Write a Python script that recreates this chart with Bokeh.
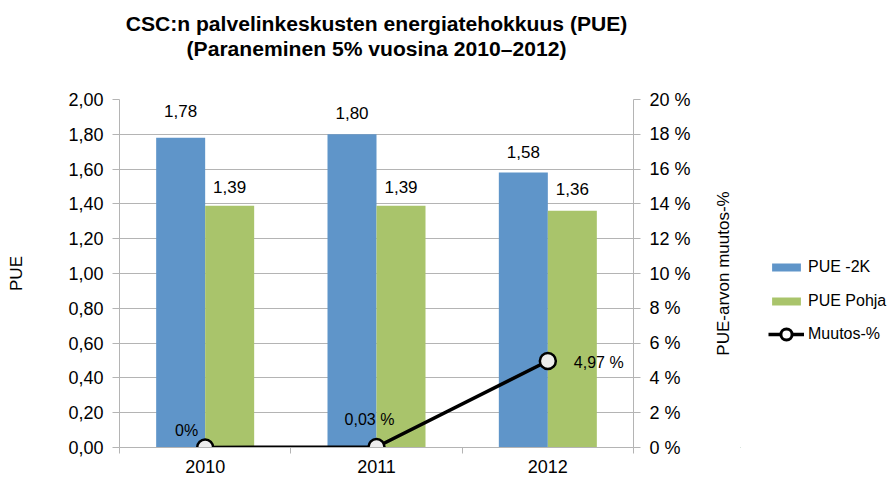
import math
from bokeh.plotting import figure
from bokeh.layouts import row
from bokeh.models import (Range1d, LinearAxis, FixedTicker, CustomJSTickFormatter,
                          ColumnDataSource, Legend, LegendItem, Title)
from bokeh.core.properties import value
from bokeh.embed import file_html
from bokeh.resources import INLINE

# ---- data ----
years = ["2010", "2011", "2012"]
pue_2k = [1.78, 1.80, 1.58]
pue_pohja = [1.39, 1.39, 1.36]
muutos = [0.0, 0.03, 4.97]          # percent
muutos_labels = ["0%", "0,03 %", "4,97 %"]
left_ticks = [0.0, 0.2, 0.4, 0.6, 0.8, 1.0, 1.2, 1.4, 1.6, 1.8, 2.0]
right_ticks = [0, 2, 4, 6, 8, 10, 12, 14, 16, 18, 20]
series_names = ["PUE -2K", "PUE Pohja", "Muutos-%"]
title_lines = ["CSC:n palvelinkeskusten energiatehokkuus (PUE)",
               "(Paraneminen 5% vuosina 2010–2012)"]
right_axis_title = "PUE-arvon muutos-%"

# ---- styles ----
FONT = "Liberation Sans"
BLUE = "#5F95C9"
GREEN = "#A9C46B"
GRID = "#B4B4B4"

xc = [i + 0.5 for i in range(len(years))]
half = 0.143

p = figure(width=700, height=479, output_backend="svg", toolbar_location=None,
           x_range=Range1d(0, 3), y_range=Range1d(0, 2),
           min_border_left=119, min_border_right=67, min_border_top=0, min_border_bottom=32)
p.extra_y_ranges = {"pct": Range1d(0, 20)}
p.outline_line_color = None
p.background_fill_color = "white"
p.border_fill_color = "white"

# titles: spacer (innermost), line 2, line 1, top spacer (outermost)
p.add_layout(Title(text=" ", text_font=FONT, text_font_size="10px", standoff=27), "above")
p.add_layout(Title(text=title_lines[1], align="center",
                   text_font=FONT, text_font_size="21.1px", text_font_style="bold",
                   text_color="#000000", standoff=0), "above")
p.add_layout(Title(text=title_lines[0], align="center",
                   text_font=FONT, text_font_size="21.1px", text_font_style="bold",
                   text_color="#000000", standoff=0), "above")
p.add_layout(Title(text=" ", text_font=FONT, text_font_size="2px", standoff=5), "above")

# bars
src_b = ColumnDataSource(dict(x=[v - half for v in xc], top=pue_2k,
                              lab=[f"{v:.2f}".replace(".", ",") for v in pue_2k],
                              yo=[-27, -21, -21]))
src_g = ColumnDataSource(dict(x=[v + half for v in xc], top=pue_pohja,
                              lab=[f"{v:.2f}".replace(".", ",") for v in pue_pohja],
                              yo=[-19, -19, -22]))
rb = p.vbar(x="x", top="top", width=0.286, source=src_b, fill_color=BLUE, line_color=None)
rg = p.vbar(x="x", top="top", width=0.286, source=src_g, fill_color=GREEN, line_color=None)

p.text(x="x", y="top", text="lab", source=src_b, y_offset="yo", text_align="center",
       text_baseline="middle", text_font=value(FONT), text_font_size="17px", text_color="black")
p.text(x="x", y="top", text="lab", source=src_g, y_offset="yo", text_align="center",
       text_baseline="middle", text_font=value(FONT), text_font_size="17px", text_color="black")

# line
src_l = ColumnDataSource(dict(x=xc, y=muutos, lab=muutos_labels,
                              xo=[-7, -7, 26], yo=[-17, -27, 1],
                              al=["right", "center", "left"]))
rl = p.line(x="x", y="y", source=src_l, y_range_name="pct", line_color="black", line_width=3.5)
rs = p.scatter(x="x", y="y", source=src_l, y_range_name="pct", size=16, marker="circle",
               fill_color="#EDEDED", line_color="black", line_width=2.5)
p.text(x="x", y="y", text="lab", source=src_l, y_range_name="pct", x_offset="xo", y_offset="yo",
       text_align="al", text_baseline="middle", text_font=value(FONT), text_font_size="16px",
       text_color="black")

# axes
yl = p.yaxis[0]
yl.ticker = FixedTicker(ticks=left_ticks)
yl.formatter = CustomJSTickFormatter(code="return tick.toFixed(2).replace('.', ',');")
yl.axis_label = "PUE"
yl.axis_label_standoff = 39

xa = p.xaxis[0]
xa.ticker = FixedTicker(ticks=xc, minor_ticks=[0, 1, 2, 3])
xa.major_label_overrides = {v: y for v, y in zip(xc, years)}
xa.major_tick_out = 0
xa.major_tick_in = 0
xa.minor_tick_out = 6
xa.minor_tick_in = 0
xa.major_label_standoff = 6

yr = LinearAxis(y_range_name="pct", ticker=FixedTicker(ticks=right_ticks),
                formatter=CustomJSTickFormatter(code="return tick.toFixed(0) + ' %';"))
p.add_layout(yr, "right")

for ax in [yl, yr]:
    ax.major_tick_out = 7
    ax.major_tick_in = 0
    ax.minor_tick_out = 0
    ax.minor_tick_in = 0
    ax.major_label_standoff = 9
for ax in [yl, yr, xa]:
    ax.axis_line_color = GRID
    ax.major_tick_line_color = GRID
    ax.minor_tick_line_color = GRID
    ax.major_label_text_font = FONT
    ax.major_label_text_font_size = "18px"
    ax.major_label_text_color = "black"
    ax.axis_label_text_font = FONT
    ax.axis_label_text_font_size = "17px"
    ax.axis_label_text_font_style = "normal"
    ax.axis_label_text_color = "black"

p.xgrid.visible = False
p.ygrid[0].ticker = FixedTicker(ticks=left_ticks)
p.ygrid.grid_line_color = GRID
p.ygrid.grid_line_width = 1

# ---- side panel: right-axis title + legend (legend glyphs sit outside its visible range) ----
lg = figure(width=188, height=479, output_backend="svg", toolbar_location=None,
            x_range=Range1d(5, 6), y_range=Range1d(50, 51),
            x_axis_location=None, y_axis_location=None,
            min_border_left=40, min_border_right=0, min_border_top=99, min_border_bottom=32)
lg.grid.visible = False
lg.outline_line_color = None
lg.background_fill_color = "white"
lg.border_fill_color = "white"

ax_t = LinearAxis(ticker=FixedTicker(ticks=[]), axis_label=right_axis_title,
                  axis_line_color=None, major_tick_out=0, major_tick_in=0,
                  minor_tick_out=0, minor_tick_in=0, major_label_standoff=0,
                  axis_label_standoff=8, axis_label_text_font=FONT,
                  axis_label_text_font_size="17px", axis_label_text_font_style="normal",
                  axis_label_text_color="black")
lg.add_layout(ax_t, "left")

pb = lg.vbar(x=xc, top=pue_2k, width=0.286, fill_color=BLUE, line_color=None)
pg = lg.vbar(x=xc, top=pue_pohja, width=0.286, fill_color=GREEN, line_color=None)
pl = lg.line(x=xc, y=muutos, line_color="black", line_width=3.5)
ps = lg.scatter(x=xc, y=muutos, size=11, marker="circle", fill_color="white",
                line_color="black", line_width=3)

common = dict(orientation="vertical", glyph_width=36, label_height=20, spacing=14,
              label_standoff=4, padding=0, margin=0,
              border_line_alpha=0, background_fill_alpha=0,
              label_text_font=FONT, label_text_font_size="16px", label_text_color="black")
legend_bars = Legend(items=[LegendItem(label=series_names[0], renderers=[pb]),
                            LegendItem(label=series_names[1], renderers=[pg])],
                     location=(28, 136), glyph_height=10, **common)
legend_line = Legend(items=[LegendItem(label=series_names[2], renderers=[pl, ps])],
                     location=(28, 99), glyph_height=28, **common)
lg.add_layout(legend_bars, "center")
lg.add_layout(legend_line, "center")

layout = row(p, lg)
open("out.html", "w").write(file_html(layout, INLINE))
